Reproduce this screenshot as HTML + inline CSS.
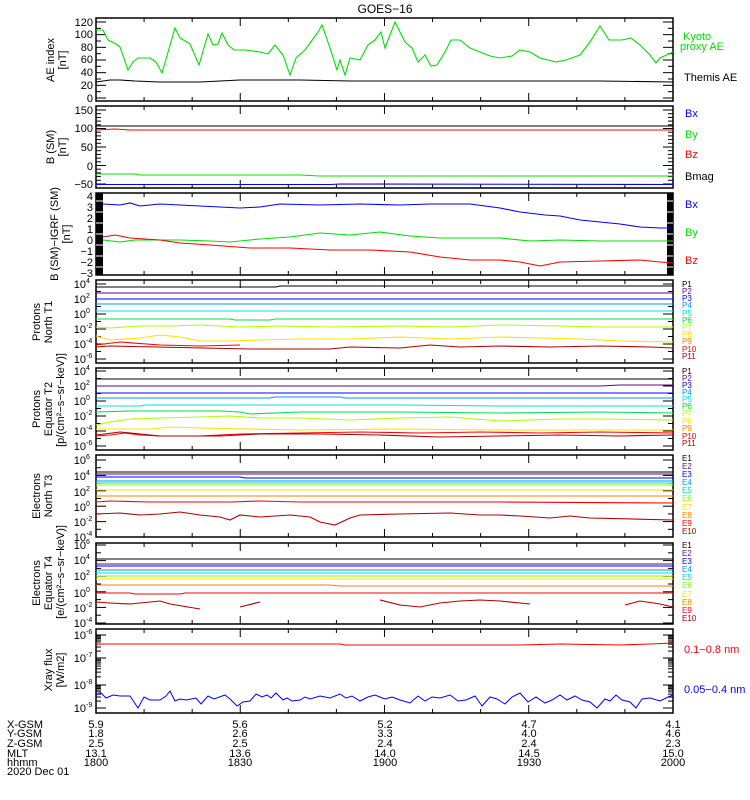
<!DOCTYPE html>
<html><head><meta charset="utf-8"><style>
body{margin:0;background:#fff}
svg{display:block;font-family:"Liberation Sans",sans-serif;font-size:11px}
.s{font-size:7px}
</style></head><body>
<svg id="c" width="750" height="800" viewBox="0 0 750 800">
<rect width="750" height="800" fill="#fff"/>
<text x="385" y="13" text-anchor="middle" font-size="12">GOES−16</text>
<g id="frames" fill="none" stroke="#000" stroke-width="1.5">
<rect x="96" y="18" width="577" height="83"/>
<rect x="96" y="106" width="577" height="82"/>
<rect x="96" y="193" width="577" height="82"/>
<rect x="96" y="280" width="577" height="83"/>
<rect x="96" y="368" width="577" height="82"/>
<rect x="96" y="455" width="577" height="82"/>
<rect x="96" y="543" width="577" height="81"/>
<rect x="96" y="629" width="577" height="84"/>
</g>
<g id="ticks" stroke="#000" stroke-width="1"></g>
<rect x="96" y="193" width="7" height="82" fill="#000"/>
<rect x="667" y="193" width="6" height="82" fill="#000"/>
<g stroke="#fff" stroke-width="1">
<line x1="96" x2="103" y1="201" y2="201"/><line x1="96" x2="103" y1="212" y2="212"/><line x1="96" x2="103" y1="223" y2="223"/><line x1="96" x2="103" y1="234" y2="234"/><line x1="96" x2="103" y1="245" y2="245"/><line x1="96" x2="103" y1="256" y2="256"/><line x1="96" x2="103" y1="267" y2="267"/>
<line x1="667" x2="673" y1="201" y2="201"/><line x1="667" x2="673" y1="212" y2="212"/><line x1="667" x2="673" y1="223" y2="223"/><line x1="667" x2="673" y1="234" y2="234"/><line x1="667" x2="673" y1="245" y2="245"/><line x1="667" x2="673" y1="256" y2="256"/><line x1="667" x2="673" y1="267" y2="267"/>
</g>
<g fill="none" stroke-width="1.1">
<polyline stroke="#00e000" points="96,30 103,30 108,40 116,44 120,47 128,70 133,62 138,58 150,58 156,62 162,73 175,28 180,38 190,44 199,65 208,34 213,45 218,44 222,33 228,45 234,50 245,50 260,52 268,54 275,45 283,55 290,75 296,58 305,50 318,32 322,25 330,48 337,70 340,60 345,75 350,58 360,60 368,45 375,40 381,32 385,48 395,22 405,42 412,48 418,62 425,55 431,66 437,65 445,52 451,40 460,40 470,48 480,52 490,56 500,58 512,56 520,50 530,52 540,58 548,60 556,62 566,60 580,55 590,42 600,26 609,40 622,40 631,38 640,45 650,55 656,63 660,58 673,52"/>
<polyline stroke="#000" points="96,82 110,80 120,80 135,81 160,82 200,82 240,80 300,80 350,81 400,81 500,81 600,81 673,82"/>
<polyline stroke="#000" points="96,126 673,126"/>
<polyline stroke="#f00" points="96,130 115,129 130,130 673,130"/>
<polyline stroke="#00e000" points="96,174 135,174 140,175 300,175 320,176 673,176"/>
<polyline stroke="#00f" points="96,184.5 330,184.5 340,184 673,184.5"/>
<polyline stroke="#00f" points="103,204 120,205 130,203 140,206 160,204 200,206 240,208 260,207 280,204 320,205 360,204 400,205 430,204 470,204 500,208 520,212 545,215 560,216 580,220 600,222 620,224 640,227 660,228 673,228"/>
<polyline stroke="#00e000" points="103,240 120,242 135,240 180,240 210,241 230,242 260,239 290,237 320,233 350,235 380,232 410,236 440,238 470,238 500,238 530,241 560,240 600,241 630,241 673,241"/>
<polyline stroke="#f00" points="103,237 115,235 130,238 160,240 180,243 210,245 250,248 290,248 330,250 370,250 410,252 440,257 470,260 500,260 520,262 540,266 560,262 600,261 640,260 660,262 673,263"/>
<polyline stroke="#000" points="96,287 276,287 280,286 673,286"/>
<polyline stroke="#5a0a8c" points="96,293 673,293"/>
<polyline stroke="#0000ff" points="96,299 673,299"/>
<polyline stroke="#0096ff" points="96,304 673,304"/>
<polyline stroke="#00e0e0" points="96,311 673,311"/>
<polyline stroke="#00e050" points="96,319 230,319 235,320 270,320 275,319 673,319"/>
<polyline stroke="#b0ff00" points="96,327 110,328 140,326 170,326 200,325 240,327 280,326 330,327 400,326 450,327 500,325 560,326 600,327 673,327"/>
<polyline stroke="#ffe000" points="96,336 110,340 140,338 160,335 180,337 200,341 230,341 260,340 300,339 350,339 400,337 450,339 500,337 540,338 580,339 620,341 673,342"/>
<polyline stroke="#f00" points="96,345 120,342 160,345 200,346 240,345"/>
<polyline stroke="#b00000" points="96,347 110,346 250,349 330,349 350,347 400,348 430,345 460,347 500,346 550,347 600,346 650,347 673,348"/>
<polyline stroke="#000" points="96,379 673,379"/>
<polyline stroke="#5a0a8c" points="96,386 600,386 620,385 673,385"/>
<polyline stroke="#0000ff" points="96,393 673,393"/>
<polyline stroke="#0096ff" points="96,398 270,398 275,397 340,397 345,398 673,398"/>
<polyline stroke="#00e0e0" points="96,406 140,406 145,405 400,405 500,406 673,406"/>
<polyline stroke="#00e050" points="96,412 130,411 220,411 240,412 250,414 300,412 400,412 500,413 600,412 673,413"/>
<polyline stroke="#b0ff00" points="96,425 110,422 130,419 160,418 200,417 230,416 260,418 300,418 350,420 400,418 450,417 500,421 560,419 600,419 673,420"/>
<polyline stroke="#ffe000" points="96,429 150,429 170,427 200,428 250,429 300,430 400,429 500,430 600,430 673,430"/>
<polyline stroke="#f00" points="96,436 110,435 125,433 140,435 160,436 200,436 240,434 300,433 360,432 420,433 480,432 540,433 600,432 673,433"/>
<polyline stroke="#b00000" points="96,435 120,432 160,436 220,436 260,434 320,434 380,435 440,437 500,436 560,435 620,436 673,435"/>
<polyline stroke="#000" points="96,472 673,472"/>
<polyline stroke="#5a0a8c" points="96,474 673,474"/>
<polyline stroke="#0000ff" points="96,477 240,477 245,478 673,478"/>
<polyline stroke="#0096ff" points="96,481 673,481"/>
<polyline stroke="#00e0c0" points="96,483 673,483"/>
<polyline stroke="#80ff00" points="96,485 673,485"/>
<polyline stroke="#ffe000" points="96,490 673,490"/>
<polyline stroke="#ff8000" points="96,496 673,496"/>
<polyline stroke="#f00" points="96,502 110,501 150,502 230,502 260,501 300,502 500,502 673,503"/>
<polyline stroke="#b00000" points="96,514 120,513 140,515 160,514 180,512 200,515 220,517 230,520 240,515 260,517 290,515 310,517 320,522 335,525 350,518 360,515 400,514 450,513 480,515 500,515 520,516 550,518 570,516 590,518 673,520"/>
<polyline stroke="#000" points="96,559 673,559"/>
<polyline stroke="#5a0a8c" points="96,564 673,564"/>
<polyline stroke="#0000ff" points="96,566 673,566"/>
<polyline stroke="#0096ff" points="96,570 673,570"/>
<polyline stroke="#00e0c0" points="96,573 673,573"/>
<polyline stroke="#80ff00" points="96,576 673,576"/>
<polyline stroke="#ffe000" points="96,579 673,579"/>
<polyline stroke="#ff8000" points="96,585 330,585 340,586 673,586"/>
<polyline stroke="#f00" points="96,593 130,593 135,594 180,594 185,593 673,593"/>
<polyline stroke="#b00000" points="96,602 110,603 130,604 140,603 160,601 170,604 200,609"/>
<polyline stroke="#b00000" points="240,607 260,602"/>
<polyline stroke="#b00000" points="380,600 400,605 420,607 440,603 460,601 480,600 500,601 530,604"/>
<polyline stroke="#b00000" points="625,605 640,601 660,604 673,607"/>
<polyline stroke="#f00" points="96,644 340,644 345,645 520,645 560,644 620,645 650,644 673,643"/>
<polyline stroke="#00f" stroke-width="1" points="96,695 101,693 106,698 113,695 120,696 130,696 134,702 138,708 144,697 150,700 160,700 166,696 170,691 175,701 180,699 186,700 196,698 201,704 208,696 214,699 225,695 230,699 237,706 243,702 250,701 256,694 262,697 267,695 271,698 276,693 283,700 287,698 292,701 300,700 305,697 310,699 320,696 330,698 340,694 346,698 352,696 360,701 368,697 375,695 385,699 392,697 400,700 410,703 418,696 425,701 432,697 440,698 450,695 458,701 466,700 475,696 482,706 490,697 497,699 505,704 512,697 520,693 528,702 536,697 545,703 552,700 560,695 567,700 575,696 582,700 590,702 597,708 605,699 610,701 616,695 622,700 630,702 636,708 642,699 650,698 660,701 668,697 673,695"/>
</g>
<g text-anchor="end" font-size="11">
<text x="93" y="26">120</text><text x="93" y="38">100</text><text x="93" y="51">80</text><text x="93" y="63">60</text><text x="93" y="76">40</text><text x="93" y="89">20</text><text x="93" y="102">0</text>
<text x="93" y="114">150</text><text x="93" y="132">100</text><text x="93" y="151">50</text><text x="93" y="170">0</text><text x="93" y="188">−50</text>
<text x="93" y="200">4</text><text x="93" y="211">3</text><text x="93" y="222">2</text><text x="93" y="233">1</text><text x="93" y="244">0</text><text x="93" y="255">−1</text><text x="93" y="266">−2</text><text x="93" y="277">−3</text>
</g>
<g text-anchor="end">
<text x="86" y="288">10</text><text x="86" y="303">10</text><text x="86" y="318">10</text><text x="86" y="333">10</text><text x="86" y="348">10</text><text x="86" y="363">10</text>
<text x="86" y="375">10</text><text x="86" y="390">10</text><text x="86" y="405">10</text><text x="86" y="420">10</text><text x="86" y="435">10</text><text x="86" y="450">10</text>
<text x="86" y="464">10</text><text x="86" y="480">10</text><text x="86" y="496">10</text><text x="86" y="511">10</text><text x="86" y="526">10</text><text x="86" y="541">10</text>
<text x="86" y="549">10</text><text x="86" y="564">10</text><text x="86" y="580">10</text><text x="86" y="597">10</text><text x="86" y="612">10</text><text x="86" y="627">10</text>
<text x="86" y="639">10</text><text x="86" y="662">10</text><text x="86" y="689">10</text><text x="86" y="712">10</text>
</g>
<g class="s">
<text x="86" y="283">4</text><text x="86" y="298">2</text><text x="86" y="313">0</text><text x="86" y="328">-2</text><text x="86" y="343">-4</text><text x="86" y="358">-6</text>
<text x="86" y="370">4</text><text x="86" y="385">2</text><text x="86" y="400">0</text><text x="86" y="415">-2</text><text x="86" y="430">-4</text><text x="86" y="445">-6</text>
<text x="86" y="459">6</text><text x="86" y="475">4</text><text x="86" y="491">2</text><text x="86" y="506">0</text><text x="86" y="521">-2</text><text x="86" y="536">-4</text>
<text x="86" y="544">6</text><text x="86" y="559">4</text><text x="86" y="575">2</text><text x="86" y="592">0</text><text x="86" y="607">-2</text><text x="86" y="622">-4</text>
<text x="86" y="634">-6</text><text x="86" y="657">-7</text><text x="86" y="684">-8</text><text x="86" y="707">-9</text>
</g>
<g text-anchor="middle" font-size="11">
<text transform="translate(54,60) rotate(-90)">AE index</text><text transform="translate(66,60) rotate(-90)">[nT]</text>
<text transform="translate(54,147) rotate(-90)">B (SM)</text><text transform="translate(66,147) rotate(-90)">[nT]</text>
<text transform="translate(58,234) rotate(-90)">B (SM)−IGRF (SM)</text><text transform="translate(70,234) rotate(-90)">[nT]</text>
<text transform="translate(40,322) rotate(-90)">Protons</text><text transform="translate(52,322) rotate(-90)">North T1</text>
<text transform="translate(40,409) rotate(-90)">Protons</text><text transform="translate(52,409) rotate(-90)">Equator T2</text><text transform="translate(64,400) rotate(-90)">[p/(cm²−s−sr−keV)]</text>
<text transform="translate(40,496) rotate(-90)">Electrons</text><text transform="translate(52,496) rotate(-90)">North T3</text>
<text transform="translate(40,583) rotate(-90)">Electrons</text><text transform="translate(52,583) rotate(-90)">Equator T4</text><text transform="translate(64,572) rotate(-90)">[e/(cm²−s−sr−keV)]</text>
<text transform="translate(52,670) rotate(-90)">Xray flux</text><text transform="translate(64,670) rotate(-90)">[W/m2]</text>
</g>
<g font-size="11">
<text x="683" y="40" fill="#00e000">Kyoto</text><text x="680" y="50" fill="#00e000">proxy AE</text>
<text x="684" y="81">Themis AE</text>
<text x="685" y="117" fill="#00f">Bx</text><text x="685" y="138" fill="#00e000">By</text><text x="685" y="158" fill="#f00">Bz</text><text x="685" y="180">Bmag</text>
<text x="685" y="208" fill="#00f">Bx</text><text x="685" y="236" fill="#00e000">By</text><text x="685" y="264" fill="#f00">Bz</text>
<text x="684" y="653" fill="#f00">0.1−0.8 nm</text><text x="684" y="693" fill="#00f">0.05−0.4 nm</text>
</g>
<g font-size="8">
<text x="682" y="287">P1</text><text x="682" y="294" fill="#5a0a8c">P2</text><text x="682" y="301" fill="#00f">P3</text><text x="682" y="308" fill="#0096ff">P4</text><text x="682" y="316" fill="#00e0e0">P5</text><text x="682" y="323" fill="#00e050">P6</text><text x="682" y="330" fill="#b0ff00">P7</text><text x="682" y="337" fill="#ffe000">P8</text><text x="682" y="344" fill="#ff8000">P9</text><text x="682" y="352" fill="#f00">P10</text><text x="682" y="359" fill="#b00000">P11</text>
<text x="682" y="374">P1</text><text x="682" y="381" fill="#5a0a8c">P2</text><text x="682" y="388" fill="#00f">P3</text><text x="682" y="395" fill="#0096ff">P4</text><text x="682" y="402" fill="#00e0e0">P5</text><text x="682" y="409" fill="#00e050">P6</text><text x="682" y="416" fill="#b0ff00">P7</text><text x="682" y="424" fill="#ffe000">P8</text><text x="682" y="431" fill="#ff8000">P9</text><text x="682" y="439" fill="#f00">P10</text><text x="682" y="446" fill="#b00000">P11</text>
<text x="682" y="461">E1</text><text x="682" y="469" fill="#5a0a8c">E2</text><text x="682" y="477" fill="#00f">E3</text><text x="682" y="485" fill="#0096ff">E4</text><text x="682" y="493" fill="#00e0c0">E5</text><text x="682" y="501" fill="#80ff00">E6</text><text x="682" y="510" fill="#ffe000">E7</text><text x="682" y="518" fill="#ff8000">E8</text><text x="682" y="526" fill="#f00">E9</text><text x="682" y="534" fill="#b00000">E10</text>
<text x="682" y="548">E1</text><text x="682" y="556" fill="#5a0a8c">E2</text><text x="682" y="564" fill="#00f">E3</text><text x="682" y="572" fill="#0096ff">E4</text><text x="682" y="580" fill="#00e0c0">E5</text><text x="682" y="588" fill="#80ff00">E6</text><text x="682" y="597" fill="#ffe000">E7</text><text x="682" y="605" fill="#ff8000">E8</text><text x="682" y="613" fill="#f00">E9</text><text x="682" y="621" fill="#b00000">E10</text>
</g>
<g font-size="11">
<text x="7" y="728">X-GSM</text><text x="7" y="737">Y-GSM</text><text x="7" y="747">Z-GSM</text><text x="7" y="757">MLT</text><text x="7" y="766">hhmm</text><text x="7" y="775">2020 Dec 01</text>
</g>
<g font-size="11" text-anchor="middle">
<text x="96" y="728">5.9</text><text x="96" y="737">1.8</text><text x="96" y="747">2.5</text><text x="96" y="757">13.1</text><text x="96" y="766">1800</text>
<text x="240" y="728">5.6</text><text x="240" y="737">2.6</text><text x="240" y="747">2.5</text><text x="240" y="757">13.6</text><text x="240" y="766">1830</text>
<text x="385" y="728">5.2</text><text x="385" y="737">3.3</text><text x="385" y="747">2.4</text><text x="385" y="757">14.0</text><text x="385" y="766">1900</text>
<text x="529" y="728">4.7</text><text x="529" y="737">4.0</text><text x="529" y="747">2.4</text><text x="529" y="757">14.5</text><text x="529" y="766">1930</text>
<text x="673" y="728">4.1</text><text x="673" y="737">4.6</text><text x="673" y="747">2.3</text><text x="673" y="757">15.0</text><text x="673" y="766">2000</text>
</g>
</svg>
<script>
(function(){
var g=document.getElementById('ticks'),ns='http://www.w3.org/2000/svg';
function L(x1,y1,x2,y2){var l=document.createElementNS(ns,'line');l.setAttribute('x1',x1);l.setAttribute('y1',y1);l.setAttribute('x2',x2);l.setAttribute('y2',y2);g.appendChild(l);}
var P=[[18,101],[106,188],[193,275],[280,363],[368,450],[455,537],[543,624],[629,713]];
P.forEach(function(p){
 for(var i=1;i<12;i++){var x=96+i*48.08;var len=(i%3==0)?8:4;L(x,p[1],x,p[1]-len);L(x,p[0],x,p[0]+len);}
});
function yt(top,bot,n,minor){for(var i=0;i<=n*minor;i++){var y=top+(bot-top)*i/(n*minor);var len=(i%minor==0)?10:5;L(96,y,96+len,y);L(673,y,673-len,y);}}
yt(22,98,6,2);yt(110,184,4,5);
yt(284,359,5,2);yt(371,446,5,2);yt(460,537,5,2);yt(545,623,5,2);
[[635,658],[658,685],[685,708]].forEach(function(d){for(var k=1;k<=10;k++){var y=d[1]-(d[1]-d[0])*Math.log10(k);var len=(k==1||k==10)?10:5;L(96,y,96+len,y);L(673,y,673-len,y);}});
})();
</script>
</body></html>
